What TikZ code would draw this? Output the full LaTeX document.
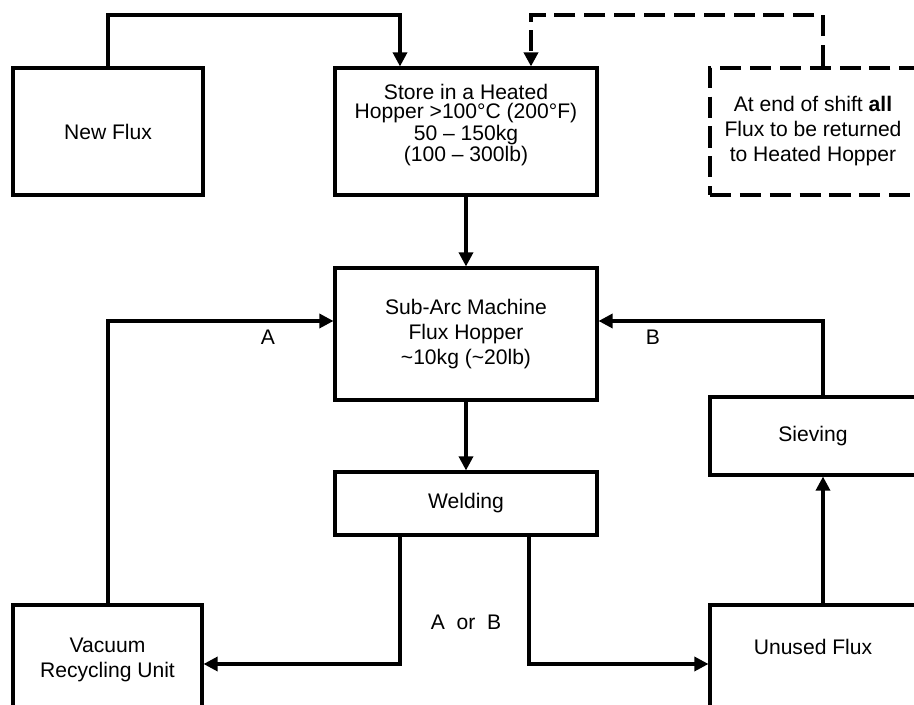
\documentclass[tikz,border=0pt]{standalone}
\usepackage{fontspec}
\setmainfont{Liberation Sans}
\usetikzlibrary{arrows.meta,positioning,calc}

\begin{document}
\begin{tikzpicture}[
  x=0.02cm, y=-0.02cm,
  >={Triangle[length=8pt, width=8pt]},
  every node/.style={font=\fontsize{12}{14.2}\selectfont},
  box/.style={draw, line width=1.8pt, align=center, inner sep=0pt},
  notebox/.style={draw, line width=2.2pt, dash pattern=on 12pt off 5pt, align=center, inner sep=0pt},
  flow/.style={->, line width=1.8pt},
  dflow/.style={->, line width=2.2pt, dash pattern=on 12pt off 5pt},
  lab/.style={inner sep=1pt}
]
\useasboundingbox (0,0) rectangle (914,705);
\clip (0,0) rectangle (914,705);

\node[box, minimum width=3.8cm, minimum height=2.54cm]   (newflux) at (108,131.5) {New Flux};
\node[box, minimum width=5.24cm, minimum height=2.54cm, font=\fontsize{12}{10.8}\selectfont]
  (store) at (466,131.5) {Store in a Heated\\Hopper >100°C (200°F)\\50 – 150kg\\(100 – 300lb)\\[-1pt]\mbox{}};
\node[notebox, minimum width=4.12cm, minimum height=2.54cm] (note) at (813,131.5)
  {At end of shift \textbf{all}\\Flux to be returned\\to Heated Hopper};
\node[box, minimum width=5.24cm, minimum height=2.64cm]  (hopper) at (466,334)
  {Sub-Arc Machine\\Flux Hopper\\\textasciitilde10kg (\textasciitilde20lb)};
\node[box, minimum width=5.24cm, minimum height=1.26cm]  (welding) at (466,503.5) {Welding};
\node[box, minimum width=4.12cm, minimum height=1.56cm]  (sieving) at (813,436) {Sieving};
\node[box, minimum width=3.78cm, minimum height=2.2cm]   (vacuum) at (107.5,660) {Vacuum\\Recycling Unit};
\node[box, minimum width=4.12cm, minimum height=2.2cm]   (unused) at (813,660) {};
\node (unusedtxt) at (813,647) {Unused Flux};

% corners of the connectors
\coordinate (nfup) at (108,15);
\coordinate (stup) at (400,15);
\coordinate (ntup) at (823,15);
\coordinate (rtup) at (531,15);
\coordinate (acorner) at (108,321);
\coordinate (bcorner) at (823,321);
\coordinate (wl) at (400,664);
\coordinate (wr) at (529,664);

\draw[flow] (newflux.north -| nfup) -- (nfup) -- (stup) -- (store.north -| stup);
\draw[dflow] (note.north -| ntup) -- (ntup) -- (rtup) -- (store.north -| rtup);
\draw[flow] (store) -- (hopper);
\draw[flow] (hopper) -- (welding);

\draw[flow] (vacuum.north -| acorner) -- (acorner) -- (hopper.west |- acorner);
\node[lab] (alab) at (268,337) {A};
\draw[flow] (unused.north -| bcorner) -- (sieving.south -| bcorner);
\draw[flow] (sieving.north -| bcorner) -- (bcorner) -- (hopper.east |- bcorner);
\node[lab] (blab) at (653,337) {B};

\draw[flow] (welding.south -| wl) -- (wl) -- (vacuum.east |- wl);
\draw[flow] (welding.south -| wr) -- (wr) -- (unused.west |- wr);
\node[lab] (ablab) at (466,622) {A\ \ or\ \ B};
\end{tikzpicture}
\end{document}
